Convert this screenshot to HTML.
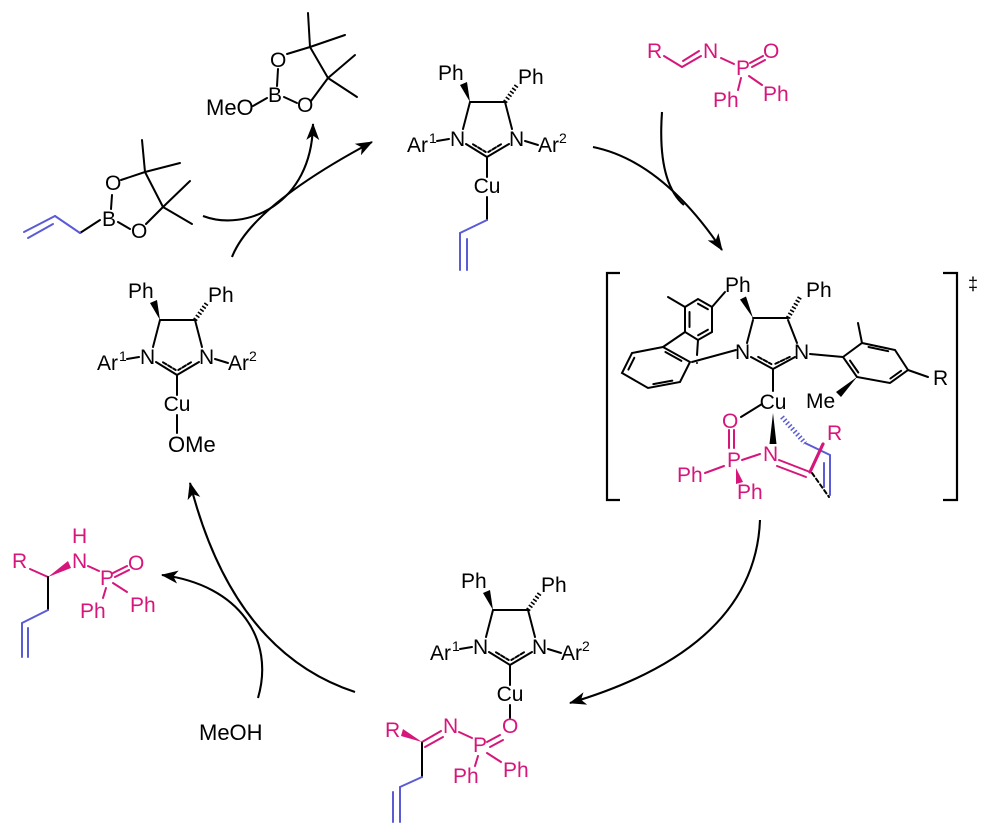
<!DOCTYPE html>
<html><head><meta charset="utf-8">
<style>
html,body{margin:0;padding:0;background:#fff;}
svg{display:block;}
text{font-family:"Liberation Sans",Arial,sans-serif;font-size:21px;}
.s{font-size:14px;}
.l{font-size:22px;}
</style></head><body>
<svg width="987" height="837" viewBox="0 0 987 837" xmlns="http://www.w3.org/2000/svg">
<defs>
<marker id="ah" markerWidth="18" markerHeight="14" refX="16" refY="7" orient="auto" markerUnits="userSpaceOnUse" viewBox="0 0 18 14">
<path d="M0,0.5 L17,7 L0,13.5 L4.5,7 Z" fill="#000"/>
</marker>
</defs>
<rect width="987" height="837" fill="#fff"/>

<!-- ===== Arrows ===== -->
<g fill="none" stroke="#000" stroke-width="2.1">
<path d="M232,257 Q252,206 372,142" marker-end="url(#ah)"/>
<path d="M203,216 C245,232 312,205 313,124" marker-end="url(#ah)"/>
<path d="M593,147 Q662,161 722,250" marker-end="url(#ah)"/>
<path d="M662,112 Q657,182 684,205"/>
<path d="M760,520 Q755,648 570,703" marker-end="url(#ah)"/>
<path d="M355,692 Q233,652 190,483" marker-end="url(#ah)"/>
<path d="M258,698 C275,640 240,585 162,575" marker-end="url(#ah)"/>
</g>
<text x="199" y="740" class="l">MeOH</text>

<!-- ===== Allyl-Bpin ===== -->
<g stroke="#000" stroke-width="2" fill="none" stroke-linecap="round">
<line x1="111" y1="209" x2="112" y2="195"/>
<line x1="121" y1="180" x2="145" y2="172"/>
<line x1="145" y1="172" x2="163" y2="207"/>
<line x1="146" y1="224" x2="163" y2="207"/>
<line x1="118" y1="222" x2="130" y2="229"/>
<line x1="100" y1="220" x2="80" y2="233"/>
<line x1="145" y1="172" x2="142" y2="140"/>
<line x1="145" y1="172" x2="180" y2="163"/>
<line x1="163" y1="207" x2="190" y2="181"/>
<line x1="163" y1="207" x2="192" y2="224"/>
</g>
<g stroke="#5b5bd6" stroke-width="2" fill="none" stroke-linecap="round">
<line x1="80" y1="233" x2="55" y2="216"/>
<line x1="55" y1="216" x2="24" y2="232"/>
<line x1="53" y1="224" x2="28" y2="238"/>
</g>
<text x="105" y="190">O</text><text x="102" y="226">B</text><text x="131" y="238">O</text>

<!-- ===== MeO-Bpin ===== -->
<g stroke="#000" stroke-width="2" fill="none" stroke-linecap="round">
<line x1="253" y1="106" x2="267" y2="98"/>
<line x1="277" y1="86" x2="278" y2="69"/>
<line x1="287" y1="54" x2="310" y2="47"/>
<line x1="310" y1="47" x2="328" y2="78"/>
<line x1="311" y1="101" x2="328" y2="78"/>
<line x1="284" y1="97" x2="297" y2="103"/>
<line x1="310" y1="47" x2="308" y2="13"/>
<line x1="310" y1="47" x2="345" y2="35"/>
<line x1="328" y1="78" x2="355" y2="55"/>
<line x1="328" y1="78" x2="357" y2="97"/>
</g>
<text x="206" y="115" class="l">MeO</text><text x="268" y="102">B</text><text x="270" y="67">O</text><text x="297" y="112">O</text>

<!-- ===== NHC-Cu template: left (base) ===== -->
<g>
<g stroke="#000" stroke-width="2" fill="none" stroke-linecap="round">
<line x1="195" y1="320" x2="207" y2="303" stroke-width="4.5" stroke-dasharray="1.6,2.1" stroke-linecap="butt"/>
<line x1="160" y1="320" x2="195" y2="320"/>
<line x1="160" y1="320" x2="153" y2="347"/>
<line x1="195" y1="320" x2="202" y2="347"/>
<line x1="156" y1="362" x2="177" y2="375"/>
<line x1="199" y1="362" x2="177" y2="375"/>
<line x1="163" y1="362.3" x2="175.7" y2="370" stroke-dasharray="4,2"/>
<line x1="191" y1="362.3" x2="178.3" y2="370" stroke-dasharray="4,2"/>
<line x1="177" y1="376" x2="177" y2="395"/>
<line x1="127" y1="359" x2="139" y2="357"/>
<line x1="215" y1="359" x2="228" y2="363"/>
<line x1="177" y1="415" x2="177" y2="433"/>
</g>
<polygon points="160,320 150,303 157,300" fill="#000"/>
<text x="128" y="298">Ph</text><text x="208" y="302">Ph</text>
<text x="140" y="364">N</text><text x="199" y="364">N</text>
<text x="97" y="370">Ar</text><text x="119" y="361" class="s">1</text>
<text x="228" y="370">Ar</text><text x="249" y="361" class="s">2</text>
<text x="177" y="411" text-anchor="middle">Cu</text>
<text x="168" y="452" class="l">OMe</text>
</g>

<!-- ===== NHC-Cu top (allyl) ===== -->
<g transform="translate(310,-218)">
<g stroke="#000" stroke-width="2" fill="none" stroke-linecap="round">
<line x1="195" y1="320" x2="207" y2="303" stroke-width="4.5" stroke-dasharray="1.6,2.1" stroke-linecap="butt"/>
<line x1="160" y1="320" x2="195" y2="320"/>
<line x1="160" y1="320" x2="153" y2="347"/>
<line x1="195" y1="320" x2="202" y2="347"/>
<line x1="156" y1="362" x2="177" y2="375"/>
<line x1="199" y1="362" x2="177" y2="375"/>
<line x1="163" y1="362.3" x2="175.7" y2="370" stroke-dasharray="4,2"/>
<line x1="191" y1="362.3" x2="178.3" y2="370" stroke-dasharray="4,2"/>
<line x1="177" y1="376" x2="177" y2="395"/>
<line x1="127" y1="359" x2="139" y2="357"/>
<line x1="215" y1="359" x2="228" y2="363"/>
<line x1="177" y1="415" x2="177" y2="438"/>
</g>
<polygon points="160,320 150,303 157,300" fill="#000"/>
<text x="128" y="298">Ph</text><text x="208" y="302">Ph</text>
<text x="140" y="364">N</text><text x="199" y="364">N</text>
<text x="97" y="370">Ar</text><text x="119" y="361" class="s">1</text>
<text x="228" y="370">Ar</text><text x="249" y="361" class="s">2</text>
<text x="177" y="411" text-anchor="middle">Cu</text>
</g>
<g stroke="#5b5bd6" stroke-width="2" fill="none" stroke-linecap="round">
<line x1="487" y1="220" x2="460" y2="233"/>
<line x1="460" y1="233" x2="460" y2="270"/>
<line x1="467" y1="239" x2="467" y2="270"/>
</g>

<!-- ===== NHC-Cu bottom ===== -->
<g transform="translate(333,290)">
<g stroke="#000" stroke-width="2" fill="none" stroke-linecap="round">
<line x1="195" y1="320" x2="207" y2="303" stroke-width="4.5" stroke-dasharray="1.6,2.1" stroke-linecap="butt"/>
<line x1="160" y1="320" x2="195" y2="320"/>
<line x1="160" y1="320" x2="153" y2="347"/>
<line x1="195" y1="320" x2="202" y2="347"/>
<line x1="156" y1="362" x2="177" y2="375"/>
<line x1="199" y1="362" x2="177" y2="375"/>
<line x1="163" y1="362.3" x2="175.7" y2="370" stroke-dasharray="4,2"/>
<line x1="191" y1="362.3" x2="178.3" y2="370" stroke-dasharray="4,2"/>
<line x1="177" y1="376" x2="177" y2="395"/>
<line x1="127" y1="359" x2="139" y2="357"/>
<line x1="215" y1="359" x2="228" y2="363"/>
<line x1="177" y1="415" x2="177" y2="428"/>
</g>
<polygon points="160,320 150,303 157,300" fill="#000"/>
<text x="128" y="298">Ph</text><text x="208" y="302">Ph</text>
<text x="140" y="364">N</text><text x="199" y="364">N</text>
<text x="97" y="370">Ar</text><text x="119" y="361" class="s">1</text>
<text x="228" y="370">Ar</text><text x="249" y="361" class="s">2</text>
<text x="177" y="411" text-anchor="middle">Cu</text>
</g>
<!-- bottom ligand -->
<g stroke="#d6167a" stroke-width="2" fill="none" stroke-linecap="round">
<line x1="500" y1="735" x2="487" y2="742"/>
<line x1="503" y1="740" x2="490" y2="747"/>
<line x1="459" y1="732" x2="472" y2="738"/>
<line x1="422" y1="742" x2="441" y2="731"/>
<line x1="425" y1="747" x2="443" y2="737"/>
<line x1="478" y1="756" x2="475" y2="766"/>
<line x1="487" y1="753" x2="501" y2="762"/>
</g>
<polygon points="422,742 403,729 401,736" fill="#d6167a"/>
<g stroke="#000" stroke-width="2" stroke-linecap="round"><line x1="422" y1="743" x2="422" y2="777"/></g>
<g stroke="#5b5bd6" stroke-width="2" fill="none" stroke-linecap="round">
<line x1="422" y1="777" x2="400" y2="787"/>
<line x1="400" y1="787" x2="400" y2="822"/>
<line x1="393" y1="792" x2="393" y2="822"/>
</g>
<g fill="#d6167a">
<text x="502" y="733">O</text><text x="473" y="752">P</text><text x="443" y="733">N</text>
<text x="385" y="737">R</text><text x="453" y="783">Ph</text><text x="503" y="777">Ph</text>
</g>

<!-- ===== Imine reagent ===== -->
<g stroke="#d6167a" stroke-width="2" fill="none" stroke-linecap="round">
<line x1="664" y1="56" x2="682" y2="67"/>
<line x1="682" y1="67" x2="701" y2="56"/>
<line x1="683" y1="61" x2="699" y2="51"/>
<line x1="721" y1="58" x2="734" y2="64"/>
<line x1="750" y1="63" x2="763" y2="56"/>
<line x1="752" y1="67" x2="765" y2="60"/>
<line x1="741" y1="78" x2="738" y2="90"/>
<line x1="749" y1="76" x2="762" y2="85"/>
</g>
<g fill="#d6167a">
<text x="647" y="58">R</text><text x="703" y="58">N</text><text x="736" y="75">P</text>
<text x="763" y="58">O</text><text x="713" y="107">Ph</text><text x="763" y="101">Ph</text>
</g>

<!-- ===== Product ===== -->
<g stroke="#d6167a" stroke-width="2" fill="none" stroke-linecap="round">
<line x1="30" y1="569" x2="48" y2="577"/>
<line x1="88" y1="566" x2="99" y2="571"/>
<line x1="113" y1="573" x2="127" y2="566"/>
<line x1="115" y1="577" x2="129" y2="570"/>
<line x1="106" y1="588" x2="103" y2="598"/>
<line x1="113" y1="583" x2="127" y2="592"/>
</g>
<polygon points="48,577 68,561 71,568" fill="#d6167a"/>
<g stroke="#000" stroke-width="2" stroke-linecap="round"><line x1="48" y1="577" x2="48" y2="610"/></g>
<g stroke="#5b5bd6" stroke-width="2" fill="none" stroke-linecap="round">
<line x1="48" y1="610" x2="22" y2="623"/>
<line x1="22" y1="623" x2="22" y2="657"/>
<line x1="28" y1="628" x2="28" y2="657"/>
</g>
<g fill="#d6167a">
<text x="72" y="543">H</text><text x="72" y="568">N</text><text x="12" y="568">R</text>
<text x="100" y="585">P</text><text x="128" y="570">O</text>
<text x="80" y="618">Ph</text><text x="130" y="612">Ph</text>
</g>

<!-- ===== Transition state ===== -->
<g stroke="#000" stroke-width="2.2" fill="none">
<path d="M620,273 H607 V500 H620"/>
<path d="M943,273 H957 V500 H943"/>
</g>
<text x="968" y="290" style="font-size:18px">‡</text>

<g stroke="#000" stroke-width="2" fill="none" stroke-linecap="round">
<!-- upper aryl ring -->
<polygon points="685,307 698,299 712,307 712,332 698,340 685,332"/>
<line x1="689.5" y1="312" x2="689.5" y2="327"/>
<line x1="698" y1="303.7" x2="707.9" y2="309.3"/>
<line x1="707.9" y1="329.7" x2="698.1" y2="335.3"/>
<line x1="685" y1="307" x2="668" y2="297"/>
<line x1="712" y1="307" x2="725" y2="292"/>
<line x1="685" y1="332" x2="663" y2="347"/>
<line x1="698" y1="340" x2="697" y2="355"/>
<!-- lower ring -->
<polygon points="663,347 632,353 622,373 648,388 680,382 690,362"/>
<line x1="634.3" y1="357.8" x2="628.4" y2="369.6"/>
<line x1="653.3" y1="384.1" x2="672.3" y2="380.6"/>
<line x1="681.4" y1="360.9" x2="665.4" y2="352"/>
<line x1="692" y1="362" x2="736" y2="350"/>
<!-- NHC ring -->
<line x1="788" y1="318" x2="800" y2="297" stroke-width="4.5" stroke-dasharray="1.6,2.1" stroke-linecap="butt"/>
<line x1="753" y1="318" x2="788" y2="318"/>
<line x1="753" y1="320" x2="747" y2="343"/>
<line x1="788" y1="320" x2="797" y2="343"/>
<line x1="751" y1="357" x2="773" y2="369"/>
<line x1="795" y1="357" x2="773" y2="369"/>
<line x1="758.2" y1="356.9" x2="771.4" y2="364.1" stroke-dasharray="4,2"/>
<line x1="789.8" y1="356.9" x2="774.6" y2="364.1" stroke-dasharray="4,2"/>
<line x1="773" y1="370" x2="773" y2="391"/>
<!-- right aryl -->
<line x1="810" y1="354" x2="843" y2="357"/>
<polygon points="843,357 862,343 895,350 908,370 890,383 857,377"/>
<line x1="850" y1="360.6" x2="858.3" y2="372.5"/>
<line x1="868.5" y1="347" x2="888.2" y2="351.2"/>
<line x1="901.1" y1="370.8" x2="890.4" y2="378.5"/>
<line x1="862" y1="343" x2="858" y2="323"/>
<line x1="908" y1="370" x2="928" y2="377"/>
<!-- Cu-O -->
<line x1="762" y1="404" x2="741" y2="417"/>
<!-- dashed black -->
<line x1="812" y1="473" x2="829" y2="497" stroke-dasharray="4,3"/>
</g>
<circle cx="697" cy="363" r="1" fill="#000"/>
<polygon points="753,318 740,299.5 746,296.5" fill="#000"/>
<polygon points="857,377 836,392 841,397" fill="#000"/>
<polygon points="773,413 769.5,444 776.5,444" fill="#000"/>
<g fill="#000">
<text x="725" y="292">Ph</text><text x="806" y="297">Ph</text>
<text x="735" y="359">N</text><text x="794" y="359">N</text>
<text x="773" y="409" text-anchor="middle">Cu</text>
<text x="933" y="385">R</text><text x="806" y="408">Me</text>
</g>
<!-- blue allyl in TS -->
<g stroke="#5b5bd6" stroke-width="2" fill="none" stroke-linecap="round">
<line x1="782" y1="417" x2="805" y2="443" stroke-width="5" stroke-dasharray="1.5,2.3" stroke-linecap="butt"/>
<line x1="805" y1="443" x2="830" y2="455"/>
<line x1="830" y1="455" x2="830" y2="495"/>
<line x1="824" y1="463" x2="824" y2="487"/>
</g>
<!-- magenta in TS -->
<g stroke="#d6167a" stroke-width="2" fill="none" stroke-linecap="round">
<line x1="729" y1="430" x2="729" y2="448"/>
<line x1="734" y1="430" x2="734" y2="448"/>
<line x1="742" y1="460" x2="760" y2="454"/>
<line x1="705" y1="473" x2="724" y2="466"/>
<line x1="779" y1="460" x2="810" y2="472"/>
<line x1="777" y1="466" x2="806" y2="477"/>
<line x1="810" y1="472" x2="823" y2="444" stroke-width="3.2"/>
</g>
<polygon points="736,468 736,484 743,482" fill="#d6167a"/>
<g fill="#d6167a">
<text x="722" y="428">O</text><text x="727" y="467">P</text><text x="763" y="461">N</text>
<text x="677" y="482">Ph</text><text x="737" y="499">Ph</text><text x="827" y="440">R</text>
</g>
</svg>
</body></html>
